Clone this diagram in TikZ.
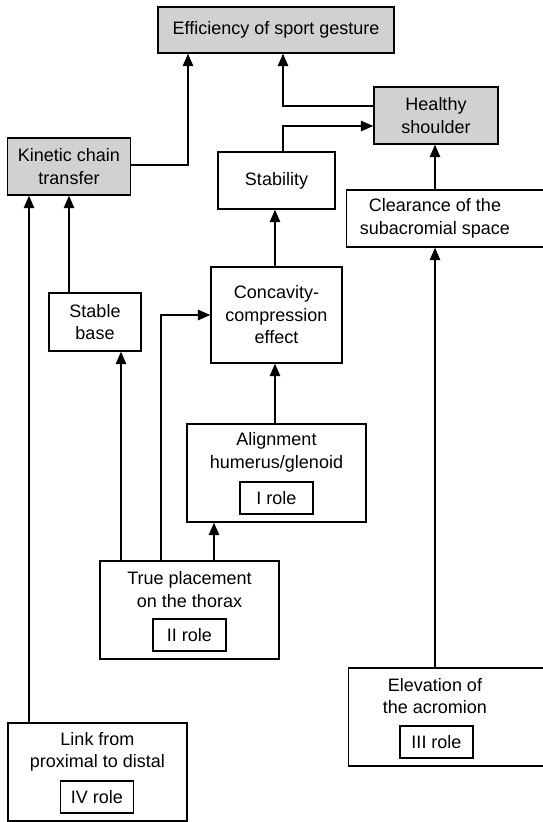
\documentclass[tikz,border=0pt]{standalone}
\usepackage{fontspec}
\setmainfont{Liberation Sans}
\usetikzlibrary{arrows.meta}
\definecolor{boxgray}{gray}{0.82}
\begin{document}
\begin{tikzpicture}[x=1pt,y=-1pt,
  every node/.style={font=\fontsize{18}{22.5}\selectfont, align=center, inner sep=0pt},
  box/.style={draw, line width=1.4pt, fill=white},
  gbox/.style={box, fill=boxgray},
  rolebox/.style={draw, line width=1.4pt, minimum width=73pt, minimum height=32pt},
  conn/.style={line width=1.4pt},
  arr/.style={conn, -{Triangle[length=12.5pt,width=10.5pt]}}
]
\useasboundingbox (0,0) rectangle (543,822);

% top row
\node[gbox, minimum width=236pt, minimum height=46pt] (eff) at (276,30) {Efficiency of sport gesture};
\node[gbox, minimum width=124pt, minimum height=57pt] (hs) at (436,115.5) {Healthy\\shoulder};
\node[gbox, minimum width=123pt, minimum height=57pt] (kin) at (69,166.5) {Kinetic chain\\transfer};
\node[box, minimum width=117pt, minimum height=57pt] (stab) at (276.5,180.5) {Stability};

% clearance (cut at the right edge)
\node[box, minimum width=206pt, minimum height=57pt, anchor=west] (clr) at (346,218.5) {};
\node (clrt) at (435,218.5) {Clearance of the\\subacromial space};

% middle
\node[box, minimum width=92pt, minimum height=58pt] (sb) at (95,322) {Stable\\base};
\node[box, minimum width=131pt, minimum height=96pt] (conc) at (276.5,315) {Concavity-\\compression\\effect};

% alignment
\node[box, minimum width=179pt, minimum height=98pt] (al) at (276.5,473) {};
\node (alt) at (276.5,452.5) {Alignment\\humerus/glenoid};
\node[rolebox] (r1) at (276.5,498) {I role};

% true placement
\node[box, minimum width=179pt, minimum height=98pt] (tp) at (189.5,610) {};
\node (tpt) at (189.5,589.5) {True placement\\on the thorax};
\node[rolebox] (r2) at (189.5,635) {II role};

% elevation (cut at the right edge)
\node[box, minimum width=204pt, minimum height=98pt, anchor=west] (el) at (348,717) {};
\node (elt) at (435,696) {Elevation of\\the acromion};
\node[rolebox] (r3) at (436.5,742) {III role};

% link
\node[box, minimum width=179pt, minimum height=98pt] (lk) at (97.5,772) {};
\node (lkt) at (97.5,752) {Link from\\proximal to distal};
\node[rolebox] (r4) at (97,797) {IV role};

% connectors
\draw[arr] ([yshift=1.5pt]kin.east) -| ([xshift=-88pt]eff.south);
\draw[arr] ([yshift=9.5pt]hs.west) -| ([xshift=7pt]eff.south);
\draw[arr] ([xshift=6.5pt]stab.north) |- ([yshift=-10.5pt]hs.west);
\draw[arr] (clrt |- clr.north) -- (clrt |- hs.south);
\draw[arr] (elt |- el.north) -- (elt |- clr.south);
\draw[arr] ([xshift=-1.5pt]conc.north) -- ([xshift=-1.5pt]stab.south);
\draw[arr] ([xshift=-1.5pt]al.north) -- ([xshift=-1.5pt]conc.south);
\draw[arr] (kin.south |- sb.north) -- (kin.south);
\draw[arr] ([xshift=-68.5pt]lk.north) -- ([xshift=-68.5pt]lk.north |- kin.south);
\draw[arr] ([xshift=-68.5pt]tp.north) -- ([xshift=-68.5pt]tp.north |- sb.south);
\draw[arr] ([xshift=-28.5pt]tp.north) |- (conc.west);
\draw[arr] ([xshift=24.5pt]tp.north) -- ([xshift=24.5pt]tp.north |- al.south);
\end{tikzpicture}
\end{document}
